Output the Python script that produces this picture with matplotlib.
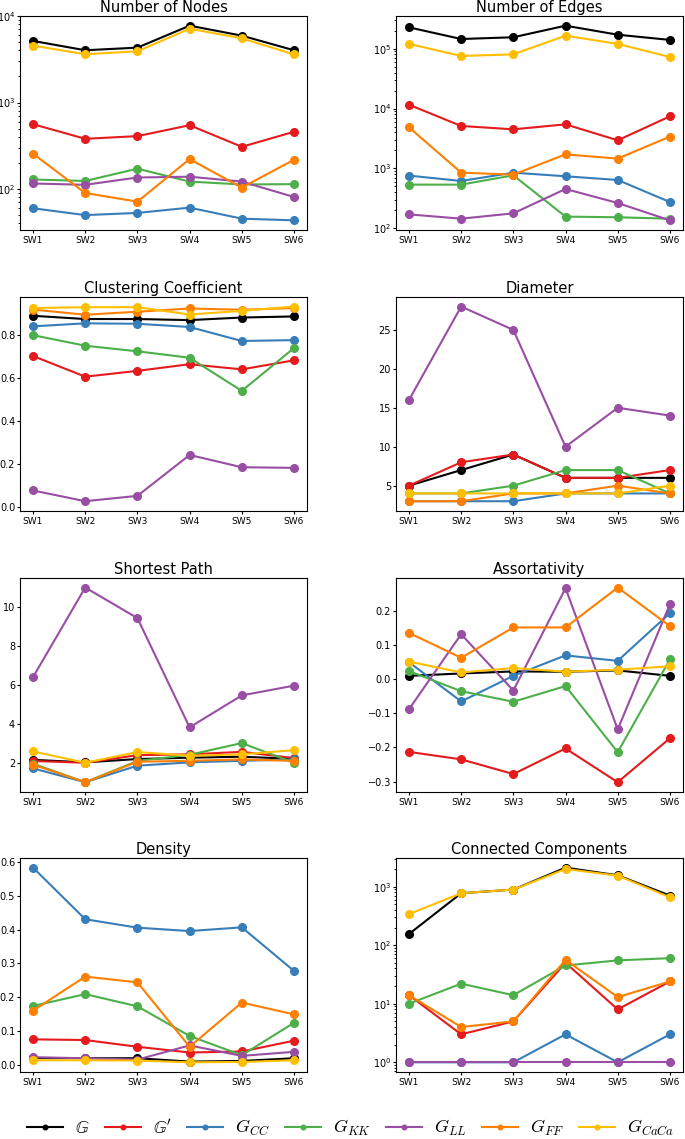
import numpy as np
import matplotlib as mpl
mpl.use('Agg')
import matplotlib.pyplot as plt

plt.rcParams['mathtext.fontset'] = 'cm'

# x labels
sw = ["SW1", "SW2", "SW3", "SW4", "SW5", "SW6"]

# series order: G, G', CC, KK, LL, FF, CaCa
labels = [r"$\mathbb{G}$", r"$\mathbb{G}'$", r"$G_{CC}$", r"$G_{KK}$",
          r"$G_{LL}$", r"$G_{FF}$", r"$G_{CaCa}$"]
colors = ["#000000", "#e41a1c", "#377eb8", "#4daf4a", "#984ea3", "#ff7f00", "#ffbf00"]

# Number of Nodes
nodes = [
    [5150, 4020, 4310, 7730, 5930, 4020],
    [562, 381, 409, 547, 308, 459],
    [60, 50, 53, 61, 45.5, 43.5],
    [129, 124, 172, 122, 113, 114],
    [116, 112, 136, 139, 122, 81],
    [256, 90, 71.5, 222, 104, 218],
    [4550, 3610, 3910, 7140, 5520, 3600],
]
# Number of Edges
edges = [
    [227000, 145000, 155000, 242000, 171000, 140000],
    [11600, 5120, 4500, 5450, 2950, 7410],
    [760, 617, 851, 740, 642, 275],
    [537, 537, 768, 157, 153, 145],
    [171, 145, 178, 454, 265, 136],
    [4860, 851, 788, 1720, 1460, 3400],
    [120000, 75500, 80400, 165000, 120000, 72600],
]
# Clustering Coefficient
clustering = [
    [0.888, 0.873, 0.873, 0.868, 0.880, 0.885],
    [0.701, 0.605, 0.632, 0.663, 0.639, 0.681],
    [0.839, 0.853, 0.851, 0.836, 0.771, 0.775],
    [0.798, 0.749, 0.723, 0.693, 0.539, 0.738],
    [0.076, 0.026, 0.051, 0.241, 0.184, 0.181],
    [0.917, 0.893, 0.907, 0.922, 0.916, 0.924],
    [0.924, 0.928, 0.928, 0.894, 0.911, 0.931],
]
# Diameter
diameter = [
    [5, 7, 9, 6, 6, 6],
    [5, 8, 9, 6, 6, 7],
    [3, 3, 3, 4, 4, 4],
    [4, 4, 5, 7, 7, 4],
    [16, 28, 25, 10, 15, 14],
    [3, 3, 4, 4, 5, 4],
    [4, 4, 4, 4, 4, 5],
]
# Shortest Path
shortest = [
    [2.15, 2.02, 2.19, 2.26, 2.31, 2.20],
    [2.09, 2.00, 2.39, 2.43, 2.56, 2.24],
    [1.71, 1.00, 1.85, 2.02, 2.10, 2.17],
    [1.95, 1.00, 2.09, 2.41, 3.01, 2.00],
    [6.40, 11.0, 9.43, 3.82, 5.46, 5.96],
    [1.90, 1.00, 2.05, 2.10, 2.17, 2.09],
    [2.58, 2.00, 2.55, 2.36, 2.43, 2.65],
]
# Assortativity
assort = [
    [0.010, 0.017, 0.023, 0.022, 0.026, 0.010],
    [-0.213, -0.235, -0.278, -0.203, -0.302, -0.173],
    [0.050, -0.065, 0.010, 0.070, 0.054, 0.194],
    [0.024, -0.035, -0.066, -0.020, -0.214, 0.058],
    [-0.088, 0.132, -0.033, 0.267, -0.147, 0.220],
    [0.136, 0.063, 0.152, 0.152, 0.269, 0.156],
    [0.052, 0.020, 0.033, 0.022, 0.028, 0.038],
]
# Density
density = [
    [0.020, 0.019, 0.019, 0.009, 0.011, 0.019],
    [0.075, 0.073, 0.053, 0.036, 0.039, 0.071],
    [0.584, 0.431, 0.406, 0.396, 0.407, 0.278],
    [0.174, 0.209, 0.173, 0.085, 0.028, 0.124],
    [0.022, 0.019, 0.015, 0.057, 0.026, 0.038],
    [0.160, 0.261, 0.244, 0.053, 0.184, 0.149],
    [0.013, 0.013, 0.012, 0.007, 0.008, 0.013],
]
# Connected Components
components = [
    [155, 771, 890, 2110, 1560, 703],
    [14, 3, 5, 50, 8, 24],
    [1, 1, 1, 3, 1, 3],
    [10, 22, 14, 45, 55, 60],
    [1, 1, 1, 1, 1, 1],
    [14, 4, 5, 56, 13, 24],
    [339, 771, 890, 2000, 1540, 659],
]

panels = [
    ("Number of Nodes", nodes, True),
    ("Number of Edges", edges, True),
    ("Clustering Coefficient", clustering, False),
    ("Diameter", diameter, False),
    ("Shortest Path", shortest, False),
    ("Assortativity", assort, False),
    ("Density", density, False),
    ("Connected Components", components, True),
]

fig = plt.figure(figsize=(6.85, 11.39), dpi=100)

lefts = [0.0292, 0.578]
bottoms = [0.798, 0.5514, 0.3047, 0.0588]
w, h = 0.419, 0.188

for k, (title, data, logy) in enumerate(panels):
    ax = fig.add_axes([lefts[k % 2], bottoms[k // 2], w, h])
    for i in range(len(data)):
        ax.plot(sw, data[i], color=colors[i], marker='o', markersize=5.5,
                linewidth=1.5, label=labels[i])
    if logy:
        ax.set_yscale('log')
    ax.set_title(title, fontsize=10.5, pad=3)
    ax.tick_params(axis='x', labelsize=6.5, length=2.5, pad=2)
    ax.tick_params(axis='y', labelsize=7, length=2.5, pad=1)
    ax.tick_params(axis='y', which='minor', length=1.5)

handles, labs = ax.get_legend_handles_labels()
fig.legend(handles, labs, loc='center', bbox_to_anchor=(0.512, 0.0095), ncol=7,
           frameon=False, fontsize=13, handlelength=2.0, columnspacing=0.85,
           handletextpad=0.65, markerscale=0.6, borderpad=0.1)

fig.savefig("out.png", dpi=100)
